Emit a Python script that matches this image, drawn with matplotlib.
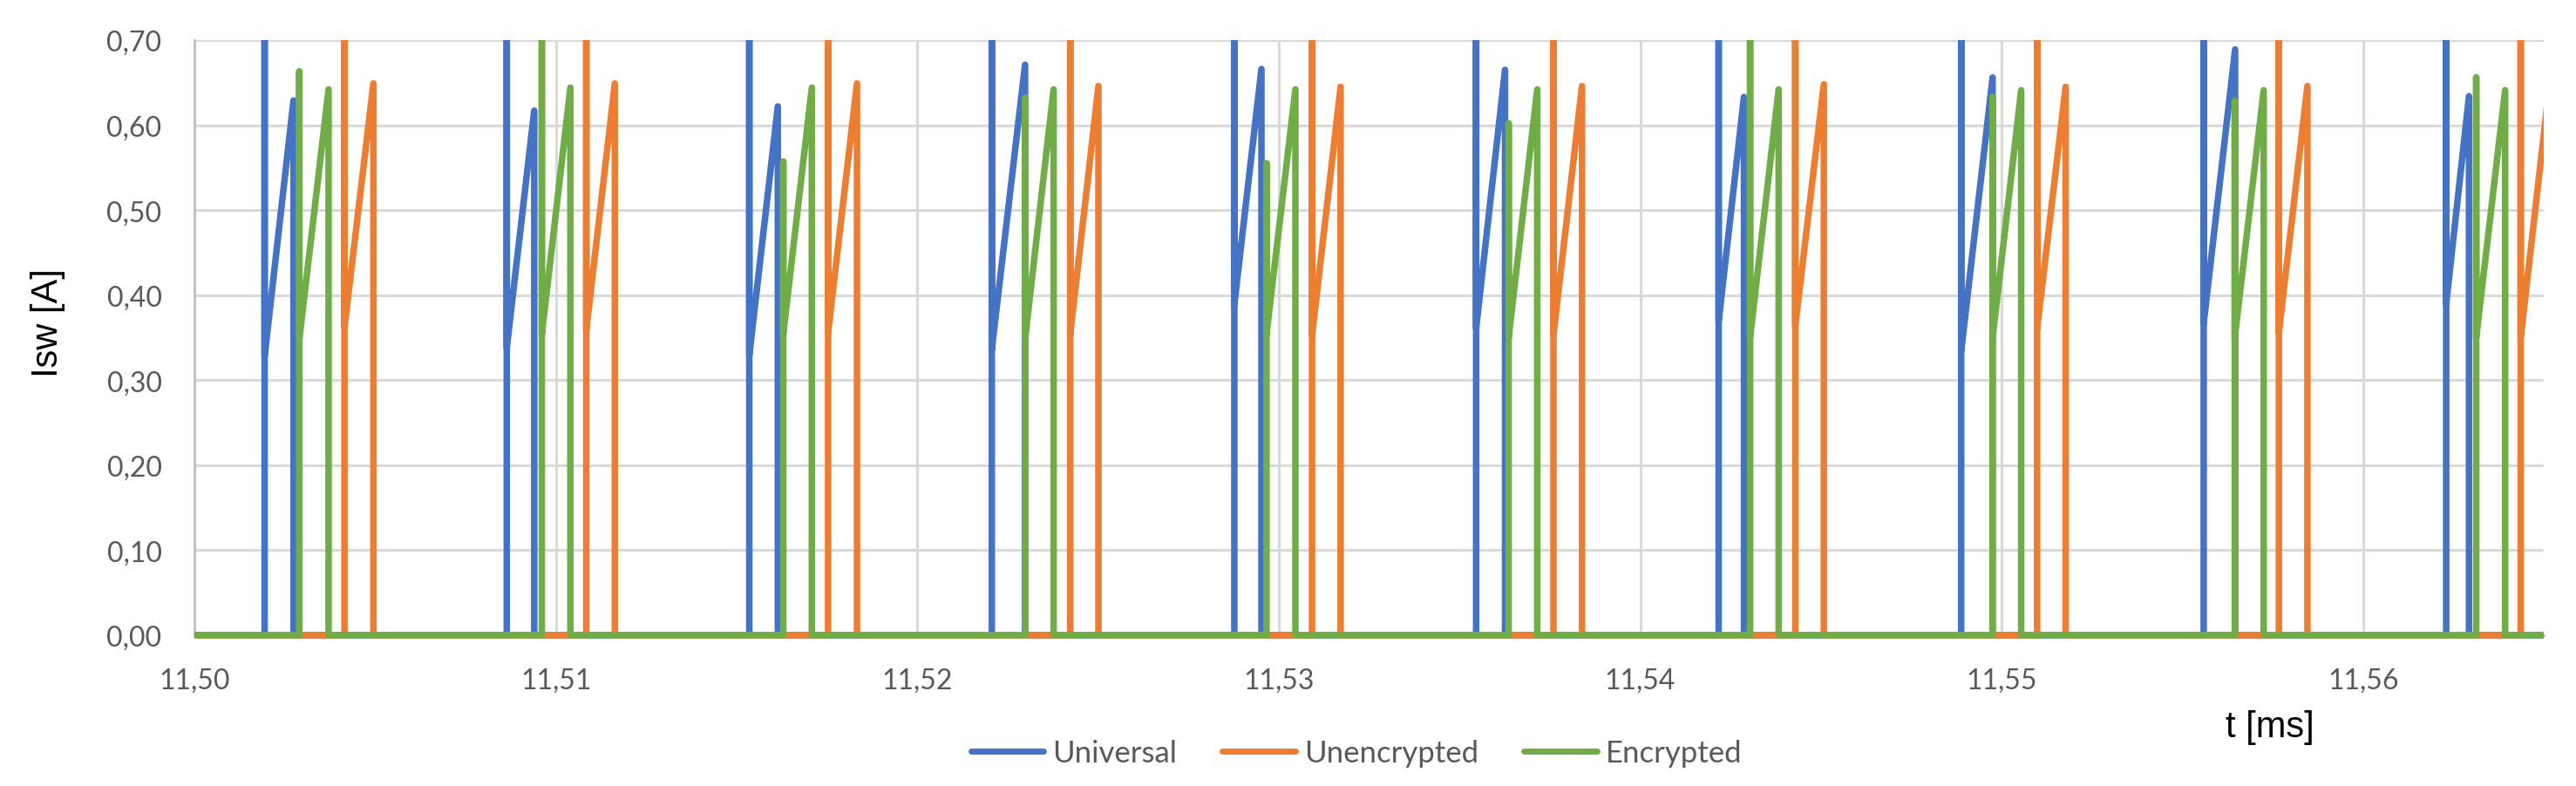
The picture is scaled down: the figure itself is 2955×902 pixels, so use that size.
"""
Switch current Isw over time for the universal, unencrypted and encrypted
modulation schemes (about ten switching cycles).
"""
import matplotlib

matplotlib.use("Agg")
from matplotlib import pyplot as plt
from matplotlib.transforms import Bbox, TransformedBbox
from matplotlib.ticker import FuncFormatter, MultipleLocator

T_MIN, T_MAX = 11.50, 11.565

# Universal: turn-on instant, spike top (1.00 = beyond the axis), ramp start,
# turn-off instant, ramp peak
universal_on = [11.50194, 11.50864, 11.51535, 11.52206, 11.52877,
                11.53546, 11.54217, 11.54888, 11.55559, 11.56230]
universal_spike = [1.00, 1.00, 1.00, 1.00, 1.00, 1.00, 1.00, 1.00, 1.00, 1.00]
universal_start = [0.328, 0.338, 0.329, 0.336, 0.389, 0.361, 0.369, 0.334, 0.367, 0.390]
universal_off = [11.50274, 11.50940, 11.51614, 11.52298, 11.52952,
                 11.53626, 11.54287, 11.54975, 11.55646, 11.56293]
universal_peak = [0.629, 0.617, 0.622, 0.671, 0.666, 0.665, 0.633, 0.656, 0.689, 0.634]

# Unencrypted
unencrypted_on = [11.50415, 11.51084, 11.51753, 11.52423, 11.53092,
                  11.53760, 11.54429, 11.55098, 11.55767, 11.56436]
unencrypted_spike = [1.00, 1.00, 1.00, 1.00, 1.00, 1.00, 1.00, 1.00, 1.00, 1.00]
unencrypted_start = [0.362, 0.359, 0.356, 0.354, 0.352, 0.353, 0.364, 0.360, 0.356, 0.350]
unencrypted_off = [11.50495, 11.51163, 11.51833, 11.52501, 11.53171,
                   11.53839, 11.54508, 11.55177, 11.55846, 11.56515]
unencrypted_peak = [0.649, 0.649, 0.649, 0.646, 0.645, 0.646, 0.648, 0.645, 0.646, 0.645]

# Encrypted
encrypted_on = [11.50290, 11.50961, 11.51629, 11.52299, 11.52966,
                11.53636, 11.54304, 11.54975, 11.55645, 11.56313]
encrypted_spike = [0.663, 1.00, 0.557, 0.632, 0.555, 0.602, 1.00, 0.633, 0.628, 0.656]
encrypted_start = [0.348, 0.354, 0.354, 0.352, 0.354, 0.350, 0.350, 0.350, 0.350, 0.350]
encrypted_off = [11.50371, 11.51040, 11.51708, 11.52377, 11.53046,
                 11.53715, 11.54383, 11.55054, 11.55725, 11.56393]
encrypted_peak = [0.642, 0.644, 0.644, 0.642, 0.642, 0.642, 0.642, 0.641, 0.641, 0.641]

X_TICKS = [11.50, 11.51, 11.52, 11.53, 11.54, 11.55, 11.56]

BLUE = "#4472C4"
ORANGE = "#ED7D31"
GREEN = "#70AD47"
GRID = "#D9D9D9"
AXIS = "#BFBFBF"
TEXT = "#595959"


def waveform(t_on, spike, start, t_off, peak):
    """Build the piecewise-linear switch current trace."""
    t, i = [T_MIN], [0.0]
    for a, s, lo, b, hi in zip(t_on, spike, start, t_off, peak):
        t += [a, a, a, b, b]
        i += [0.0, s, lo, hi, 0.0]
    if t[-1] < T_MAX:
        t.append(T_MAX)
        i.append(0.0)
    return t, i


series = [
    ("Universal", BLUE,
     waveform(universal_on, universal_spike, universal_start, universal_off, universal_peak)),
    ("Unencrypted", ORANGE,
     waveform(unencrypted_on, unencrypted_spike, unencrypted_start, unencrypted_off,
              unencrypted_peak)),
    ("Encrypted", GREEN,
     waveform(encrypted_on, encrypted_spike, encrypted_start, encrypted_off, encrypted_peak)),
]

fig = plt.figure(figsize=(29.55, 9.03), dpi=100)
ax = fig.add_axes([0.0755, 0.1916, 0.912, 0.7564])

# let the zero line sit half below the axis, like the original
clip = TransformedBbox(Bbox([[0.0, -0.03], [1.0, 1.0]]), ax.transAxes)

for name, color, (t, i) in series:
    line, = ax.plot(t, i, color=color, lw=5.4, label=name, zorder=3,
                    solid_joinstyle="round", solid_capstyle="butt")
    line.set_clip_box(clip)

ax.set_xlim(T_MIN, T_MAX)
ax.set_ylim(0, 0.70)
ax.set_xticks(X_TICKS)
ax.yaxis.set_major_locator(MultipleLocator(0.10))
ax.xaxis.set_major_formatter(FuncFormatter(lambda v, p: f"{v:.2f}".replace(".", ",")))
ax.yaxis.set_major_formatter(FuncFormatter(lambda v, p: f"{v:.2f}".replace(".", ",")))

ax.grid(True, color=GRID, lw=2.2, zorder=0)
ax.set_axisbelow(True)
for side in ["top", "right"]:
    ax.spines[side].set_visible(False)
for side in ["left", "bottom"]:
    ax.spines[side].set_color(AXIS)
    ax.spines[side].set_linewidth(2.0)

ax.tick_params(axis="both", length=0, labelsize=23, labelcolor=TEXT)
ax.tick_params(axis="y", pad=27)
ax.tick_params(axis="x", pad=26)
for lbl in ax.get_xticklabels() + ax.get_yticklabels():
    lbl.set_fontfamily("Lato")

# Axis titles
fig.text(0.0186, 0.590, "Isw [A]", rotation=90, ha="center", va="center",
         fontsize=30, family="Liberation Sans", color="black")
fig.text(0.8812, 0.0753, "t [ms]", ha="center", va="center",
         fontsize=30, family="Liberation Sans", color="black")

# Legend
fig.legend(
    loc="center",
    bbox_to_anchor=(0.5266, 0.0421),
    ncol=3,
    frameon=False,
    handlelength=2.4,
    handletextpad=0.3,
    columnspacing=1.5,
    prop={"family": "Lato", "size": 25},
    labelcolor=TEXT,
)
for h in fig.legends[0].get_lines():
    h.set_linewidth(5.0)
    h.set_solid_capstyle("round")

plt.savefig("out.png", dpi=100)
